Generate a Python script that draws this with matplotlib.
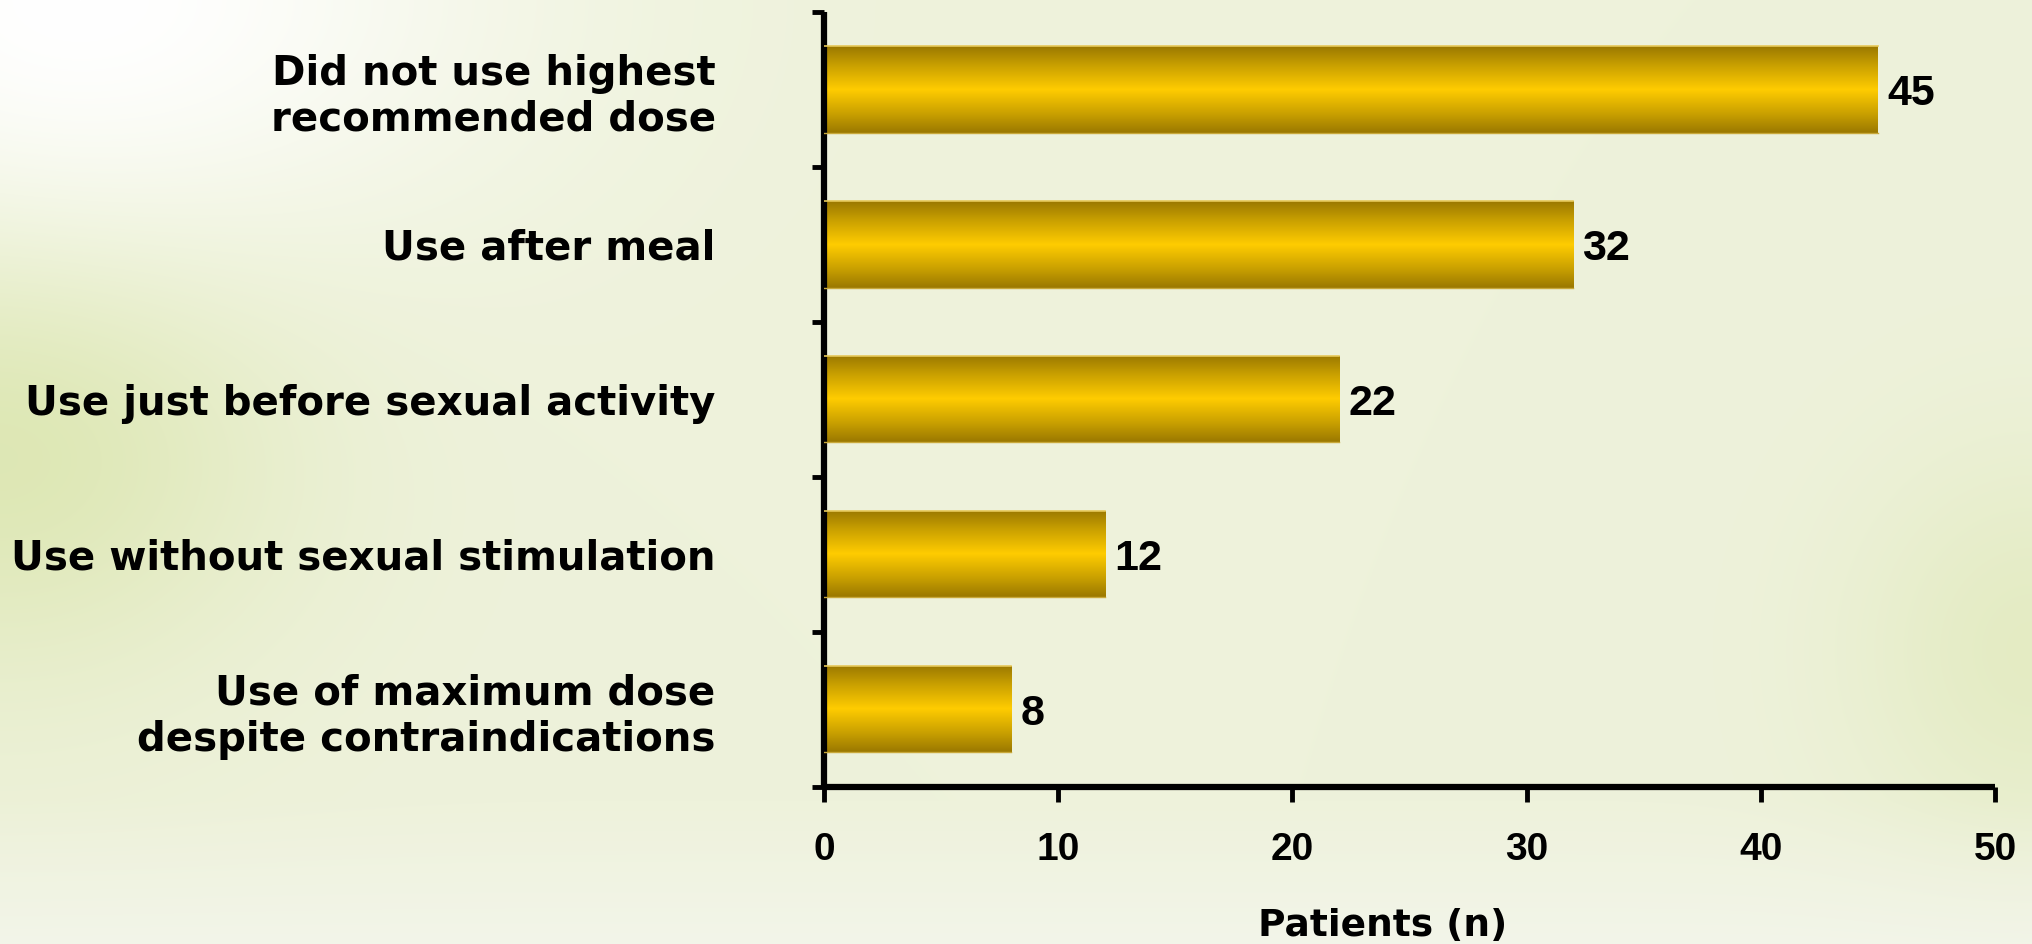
import numpy as np
import matplotlib
matplotlib.use("Agg")
import matplotlib.pyplot as plt
from matplotlib.colors import LinearSegmentedColormap

# ---- data ----
categories = [
    "Did not use highest\nrecommended dose",
    "Use after meal",
    "Use just before sexual activity",
    "Use without sexual stimulation",
    "Use of maximum dose\ndespite contraindications",
]
values = [45, 32, 22, 12, 8]
x_ticks = [0, 10, 20, 30, 40, 50]
x_label = "Patients (n)"

W, H = 2032, 944
fig = plt.figure(figsize=(W / 100, H / 100), dpi=100)

# ---- background (styling only) ----
yy, xx = np.mgrid[0:H, 0:W].astype(float)
base = np.array([238, 242, 219], float) / 255.0
bg = np.ones((H, W, 3)) * base
w1 = np.exp(-(((xx - 80) / 420.0) ** 2 + ((yy - 0) / 260.0) ** 2))
g1 = np.exp(-(((xx - 0) / 280.0) ** 2 + ((yy - 420) / 250.0) ** 2))
w2 = np.clip((yy - 800) / 144.0, 0, 1) * 0.5
g2 = np.exp(-(((xx - 2032) / 180.0) ** 2 + ((yy - 650) / 200.0) ** 2))
green = np.array([218, 229, 172], float) / 255.0
for c in range(3):
    ch = bg[..., c]
    ch = ch * (1 - 0.9 * g1) + green[c] * 0.9 * g1
    ch = ch * (1 - 0.5 * g2) + green[c] * 0.5 * g2
    ch = ch * (1 - w1) + 1.0 * w1
    ch = ch * (1 - w2) + 0.97 * w2
    bg[..., c] = ch
bgax = fig.add_axes([0, 0, 1, 1], zorder=-5)
bgax.imshow(np.clip(bg, 0, 1), aspect="auto", extent=[0, 1, 0, 1], interpolation="bilinear")
bgax.axis("off")

# ---- main axes ----
left_px, right_px = 824, 1995
bottom_px, top_px = 786.5, 11.7
ax = fig.add_axes([left_px / W, 1 - bottom_px / H,
                   (right_px - left_px) / W, (bottom_px - top_px) / H])
ax.set_facecolor("none")

n = len(categories)
ypos = np.arange(n)[::-1]  # top category at top
bars = ax.barh(ypos, values, height=0.56, color="none", edgecolor="none", zorder=2)

cmap = LinearSegmentedColormap.from_list(
    "gold",
    [(0.0, "#9a7800"), (0.22, "#c9a000"), (0.5, "#ffcc00"),
     (0.78, "#c9a000"), (1.0, "#9a7800")])
grad = np.linspace(0, 1, 256).reshape(-1, 1)
for b in bars:
    x0, y0 = b.get_x(), b.get_y()
    w, h = b.get_width(), b.get_height()
    im = ax.imshow(grad, extent=[x0, x0 + w, y0, y0 + h], aspect="auto",
                   cmap=cmap, zorder=2, interpolation="bilinear")
    im.set_clip_path(b)
    ax.plot([x0, x0 + w], [y0 + h, y0 + h], color="#e6c95a", lw=1.2, zorder=3)
    ax.plot([x0, x0 + w], [y0, y0], color="#c8a83a", lw=1.0, zorder=3)

for y, v in zip(ypos, values):
    ax.annotate(str(v), xy=(v, y), xytext=(6.5, 0), textcoords="offset points",
                ha="left", va="center_baseline", fontsize=31, fontweight="bold",
                family="Liberation Sans", color="black")

ax.set_xlim(0, 50)
ax.set_ylim(-0.5, 4.5)

for s in ["top", "right"]:
    ax.spines[s].set_visible(False)
for s in ["left", "bottom"]:
    ax.spines[s].set_linewidth(4.5)
    ax.spines[s].set_color("black")
    ax.spines[s].set_capstyle("butt")

ax.set_xticks(x_ticks)
ax.set_xticklabels([str(t) for t in x_ticks], fontsize=28, fontweight="bold",
                   family="Liberation Sans")
ax.tick_params(axis="x", direction="out", length=11, width=3.5, pad=22,
               color="black")

ax.set_yticks(ypos)
ax.set_yticklabels(categories, fontsize=29, fontweight="bold",
                   family="DejaVu Sans")
ax.tick_params(axis="y", which="major", length=0, pad=78)
ax.set_yticks(np.arange(-0.5, n + 0.5, 1.0), minor=True)
ax.tick_params(axis="y", which="minor", direction="out", length=9, width=3.5,
               color="black")

fig.text(1383 / W, 1 - 936 / H, x_label, ha="center", va="baseline",
         fontsize=27, fontweight="bold", family="DejaVu Sans")

fig.savefig("out.png", dpi=100)
